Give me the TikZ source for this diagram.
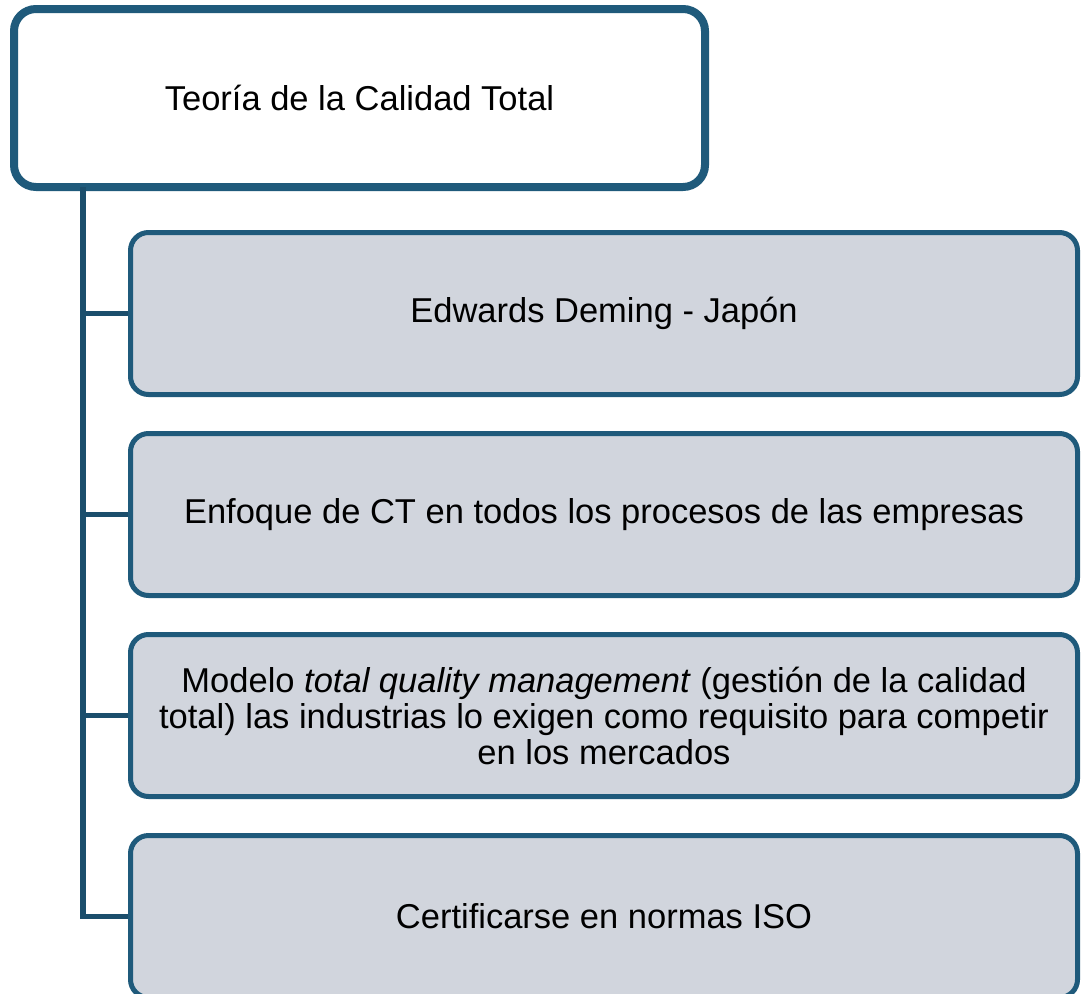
\documentclass[tikz,border=0pt]{standalone}
\usepackage{fontspec}
\setmainfont{Liberation Sans}
\usepackage{tikz}
\usetikzlibrary{shadows}
\definecolor{boxline}{HTML}{1F5A7B}
\definecolor{trunkline}{HTML}{1B4E6C}
\definecolor{boxfill}{HTML}{D1D5DD}

\begin{document}
\begin{tikzpicture}[x=1pt,y=-1pt,font=\fontsize{34.5}{36}\selectfont,
  topbox/.style={draw=boxline,line width=8pt,rounded corners=22pt,fill=white,
    minimum width=691pt,minimum height=178pt,
    drop shadow={shadow xshift=3pt,shadow yshift=-3pt,opacity=0.2}},
  itembox/.style={draw=boxline,line width=5pt,rounded corners=18pt,fill=boxfill,
    minimum width=947pt,minimum height=162pt,align=center,inner sep=0pt},
  branch/.style={draw=trunkline,line width=5.5pt}]
\useasboundingbox (0,0) rectangle (1081,993);
\node[topbox] (theory) at (359.5,98) {Teoría de la Calidad Total};
\node[itembox] (item1) at (604,313.5) {Edwards Deming - Japón};
\node[itembox] (item2) at (604,514.5) {Enfoque de CT en todos los procesos de las empresas};
\node[itembox] (item3) at (604,715.5) {Modelo \textit{total quality management} (gestión de la calidad\\
  total) las industrias lo exigen como requisito para competir\\
  en los mercados};
\node[itembox] (item4) at (604,916.5) {Certificarse en normas ISO};
% trunk and branches
\coordinate (trunk) at (83,187);
\draw[branch] (trunk) |- (item4.west);
\foreach \i in {1,2,3}
  \draw[branch] (item\i.west -| trunk) -- (item\i.west);
\end{tikzpicture}
\end{document}
